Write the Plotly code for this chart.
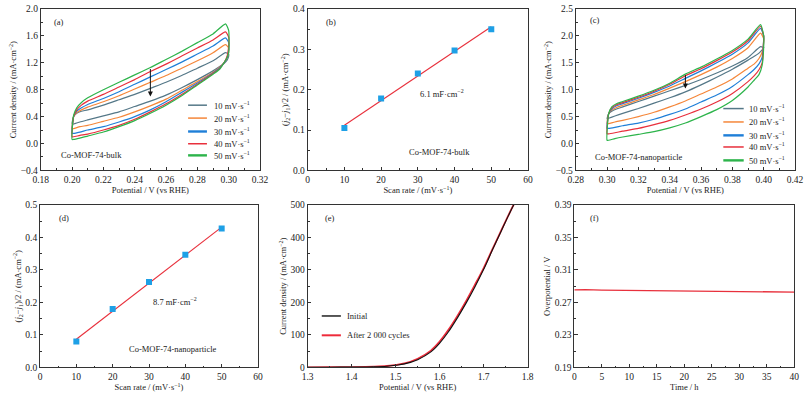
import plotly.graph_objects as go

FONT = "Liberation Serif"
TXT = "#222222"
AX = "#333333"

# ---------------- data ----------------
rates = ["10", "20", "30", "40", "50"]
rate_colors = ["#557888", "#f5873a", "#1f7fd8", "#e8303c", "#2db44b"]
legend_widths = [1.5, 1.5, 2.4, 1.5, 2.4]

# panel (a): Co-MOF-74-bulk CV
a_up_x = [0.200, 0.201, 0.203, 0.206, 0.21, 0.22, 0.23, 0.24, 0.25, 0.26, 0.27, 0.28, 0.29, 0.298, 0.300]
a_lo_x = [0.300, 0.299, 0.297, 0.294, 0.29, 0.28, 0.27, 0.26, 0.25, 0.24, 0.23, 0.22, 0.21, 0.205, 0.201, 0.200]
a_up_10 = [0.29, 0.40, 0.45, 0.48, 0.50, 0.57, 0.65, 0.73, 0.82, 0.91, 1.01, 1.12, 1.23, 1.35, 1.33]
a_up_20 = [0.22, 0.40, 0.46, 0.50, 0.54, 0.62, 0.71, 0.81, 0.91, 1.01, 1.12, 1.23, 1.35, 1.47, 1.42]
a_up_30 = [0.15, 0.40, 0.48, 0.53, 0.58, 0.67, 0.77, 0.88, 0.99, 1.10, 1.21, 1.33, 1.45, 1.57, 1.50]
a_up_40 = [0.10, 0.40, 0.50, 0.57, 0.63, 0.73, 0.84, 0.95, 1.07, 1.18, 1.30, 1.42, 1.54, 1.66, 1.58]
a_up_50 = [0.06, 0.42, 0.53, 0.61, 0.68, 0.80, 0.91, 1.02, 1.13, 1.25, 1.37, 1.50, 1.63, 1.78, 1.68]
a_lo_10 = [1.30, 1.24, 1.19, 1.14, 1.08, 0.95, 0.83, 0.72, 0.63, 0.55, 0.47, 0.41, 0.35, 0.32, 0.29, 0.29]
a_lo_20 = [1.36, 1.27, 1.20, 1.13, 1.06, 0.92, 0.79, 0.66, 0.56, 0.47, 0.39, 0.33, 0.27, 0.25, 0.22, 0.22]
a_lo_30 = [1.40, 1.28, 1.20, 1.12, 1.05, 0.90, 0.76, 0.62, 0.50, 0.40, 0.32, 0.25, 0.20, 0.17, 0.15, 0.15]
a_lo_40 = [1.45, 1.30, 1.20, 1.11, 1.04, 0.88, 0.73, 0.59, 0.47, 0.36, 0.27, 0.20, 0.14, 0.12, 0.10, 0.10]
a_lo_50 = [1.35, 1.28, 1.20, 1.10, 1.03, 0.87, 0.71, 0.57, 0.45, 0.34, 0.25, 0.17, 0.11, 0.08, 0.06, 0.06]
a_up = [a_up_10, a_up_20, a_up_30, a_up_40, a_up_50]
a_lo = [a_lo_10, a_lo_20, a_lo_30, a_lo_40, a_lo_50]

# panel (c): Co-MOF-74-nanoparticle CV
c_up_x = [0.300, 0.301, 0.303, 0.306, 0.31, 0.32, 0.33, 0.34, 0.35, 0.36, 0.37, 0.38, 0.39, 0.398, 0.400]
c_lo_x = [0.400, 0.399, 0.397, 0.394, 0.39, 0.38, 0.37, 0.36, 0.35, 0.34, 0.33, 0.32, 0.31, 0.305, 0.301, 0.300]
c_up_10 = [0.46, 0.55, 0.60, 0.64, 0.68, 0.78, 0.88, 0.98, 1.08, 1.19, 1.31, 1.44, 1.60, 1.80, 1.78]
c_up_20 = [0.37, 0.55, 0.62, 0.67, 0.71, 0.81, 0.91, 1.03, 1.15, 1.28, 1.42, 1.58, 1.78, 2.05, 1.95]
c_up_30 = [0.28, 0.55, 0.64, 0.70, 0.74, 0.84, 0.95, 1.07, 1.21, 1.35, 1.50, 1.66, 1.87, 2.14, 2.00]
c_up_40 = [0.18, 0.55, 0.66, 0.72, 0.76, 0.86, 0.97, 1.10, 1.26, 1.39, 1.54, 1.70, 1.91, 2.18, 2.00]
c_up_50 = [0.06, 0.55, 0.68, 0.74, 0.78, 0.88, 0.99, 1.12, 1.29, 1.42, 1.57, 1.73, 1.94, 2.21, 2.00]
c_lo_10 = [1.78, 1.74, 1.68, 1.62, 1.55, 1.38, 1.23, 1.09, 0.96, 0.85, 0.75, 0.65, 0.56, 0.51, 0.47, 0.46]
c_lo_20 = [1.90, 1.70, 1.58, 1.48, 1.40, 1.20, 1.05, 0.92, 0.79, 0.68, 0.58, 0.50, 0.43, 0.40, 0.37, 0.37]
c_lo_30 = [1.95, 1.60, 1.48, 1.38, 1.28, 1.06, 0.90, 0.77, 0.64, 0.54, 0.45, 0.38, 0.33, 0.30, 0.28, 0.28]
c_lo_40 = [1.95, 1.50, 1.37, 1.26, 1.15, 0.93, 0.77, 0.64, 0.53, 0.43, 0.35, 0.28, 0.23, 0.20, 0.18, 0.18]
c_lo_50 = [1.80, 1.45, 1.28, 1.18, 1.05, 0.80, 0.63, 0.50, 0.38, 0.29, 0.22, 0.17, 0.12, 0.09, 0.06, 0.06]
c_up = [c_up_10, c_up_20, c_up_30, c_up_40, c_up_50]
c_lo = [c_lo_10, c_lo_20, c_lo_30, c_lo_40, c_lo_50]

# panel (b) / (d): half current-density difference vs scan rate
scan_rate = [10, 20, 30, 40, 50]
b_dj = [0.105, 0.178, 0.240, 0.297, 0.350]
d_dj = [0.080, 0.180, 0.263, 0.347, 0.428]
b_fit = [0.112, 0.356]
d_fit = [0.087, 0.432]
fit_x = [10, 50]

# panel (e): LSV before / after cycling
e_x = [1.30, 1.35, 1.40, 1.45, 1.48, 1.50, 1.52, 1.55, 1.58, 1.60, 1.62, 1.64, 1.66, 1.68, 1.70, 1.72, 1.74, 1.76, 1.77]
e_initial = [0.5, 0.8, 1.2, 2.2, 4, 7, 11, 24, 48, 75, 110, 152, 198, 248, 302, 362, 420, 478, 505]
e_after = [0.5, 0.8, 1.3, 2.5, 4.5, 8, 12.5, 27, 52, 80, 116, 158, 204, 254, 306, 364, 422, 479, 506]

# panel (f): overpotential vs time
f_t = [0, 2, 5, 10, 15, 20, 25, 30, 35, 40]
f_eta = [0.2855, 0.2858, 0.2853, 0.2849, 0.2846, 0.2843, 0.2840, 0.2836, 0.2833, 0.2828]

# ---------------- figure ----------------
fig = go.Figure()

for i in range(5):
    fig.add_trace(go.Scatter(x=a_up_x + a_lo_x, y=a_up[i] + a_lo[i], mode="lines",
                             line=dict(color=rate_colors[i], width=1.2, shape="spline", smoothing=0.5),
                             xaxis="x", yaxis="y", showlegend=False))
    fig.add_trace(go.Scatter(x=c_up_x + c_lo_x, y=c_up[i] + c_lo[i], mode="lines",
                             line=dict(color=rate_colors[i], width=1.2, shape="spline", smoothing=0.5),
                             xaxis="x3", yaxis="y3", showlegend=False))

for dj, fit, xa, ya in [(b_dj, b_fit, "x2", "y2"), (d_dj, d_fit, "x4", "y4")]:
    fig.add_trace(go.Scatter(x=fit_x, y=fit, mode="lines", line=dict(color="#e8303c", width=1.1),
                             xaxis=xa, yaxis=ya, showlegend=False))
    fig.add_trace(go.Scatter(x=scan_rate, y=dj, mode="markers",
                             marker=dict(symbol="square", size=6, color="#1ea0e6"),
                             xaxis=xa, yaxis=ya, showlegend=False))

fig.add_trace(go.Scatter(x=e_x, y=e_after, mode="lines", line=dict(color="#ee2b3a", width=1.8, shape="spline"),
                         xaxis="x5", yaxis="y5", showlegend=False))
fig.add_trace(go.Scatter(x=e_x, y=e_initial, mode="lines", line=dict(color="#111111", width=1.1, shape="spline"),
                         xaxis="x5", yaxis="y5", showlegend=False))

fig.add_trace(go.Scatter(x=f_t, y=f_eta, mode="lines", line=dict(color="#e8303c", width=1.3),
                         xaxis="x6", yaxis="y6", showlegend=False))


def axis(domain, rng, dtick, minor, anchor, title, fmt, standoff):
    return dict(domain=domain, range=rng, dtick=dtick, tick0=rng[0], tickformat=fmt,
                ticks="inside", ticklen=3.5, tickwidth=0.8, tickcolor=AX,
                showline=True, linecolor=AX, linewidth=0.9, mirror=True,
                showgrid=False, zeroline=False, anchor=anchor, automargin=False,
                ticklabeloverflow="allow",
                minor=dict(ticks="inside", ticklen=2, dtick=minor, tick0=rng[0], tickcolor=AX, tickwidth=0.7, showgrid=False),
                tickfont=dict(family=FONT, size=9.5, color=TXT),
                title=dict(text=title, font=dict(family=FONT, size=8.5, color=TXT), standoff=standoff))


top = [0.573, 0.9774]
bot = [0.079, 0.4862]
potential = "Potential / V (vs RHE)"
cd = "Current density / (mA·cm<sup>−2</sup>)"
djt = "(<i>j</i><sub>2</sub>−<i>j</i><sub>1</sub>)/2 / (mA·cm<sup>−2</sup>)"
scan = "Scan rate / (mV·s<sup>−1</sup>)"

fig.update_layout(
    width=805, height=399, margin=dict(l=0, r=0, t=0, b=0, autoexpand=False),
    paper_bgcolor="white", plot_bgcolor="white", showlegend=False,
    font=dict(family=FONT, size=9, color=TXT),
    xaxis=axis([0.0506, 0.3230], [0.18, 0.32], 0.02, 0.01, "y", potential, ".2f", 3),
    yaxis=axis(top, [-0.4, 2.0], 0.4, 0.2, "x", cd, ".1f", 2),
    xaxis2=axis([0.3822, 0.6559], [0, 60], 10, 5, "y2", scan, "d", 3),
    yaxis2=axis(top, [0, 0.4], 0.1, 0.05, "x2", djt, ".1f", 2),
    xaxis3=axis([0.7152, 0.9876], [0.28, 0.42], 0.02, 0.01, "y3", potential, ".2f", 3),
    yaxis3=axis(top, [-0.5, 2.5], 0.5, 0.25, "x3", cd, ".1f", 2),
    xaxis4=axis([0.0497, 0.3205], [0, 60], 10, 5, "y4", scan, "d", 3),
    yaxis4=axis(bot, [0, 0.5], 0.1, 0.05, "x4", djt, ".1f", 2),
    xaxis5=axis([0.3822, 0.6555], [1.3, 1.8], 0.1, 0.05, "y5", potential, ".1f", 3),
    yaxis5=axis(bot, [0, 500], 100, 50, "x5", cd, "d", 2),
    xaxis6=axis([0.7134, 0.9867], [0, 40], 5, 2.5, "y6", "Time / h", "d", 3),
    yaxis6=axis(bot, [0.19, 0.39], 0.04, 0.02, "x6", "Overpotential / V", ".2f", 2),
)

ann = []
shapes = []


def label(xref, yref, x, y, text, size=8.5, xanchor="center"):
    ann.append(dict(xref=xref, yref=yref, x=x, y=y, text=text, showarrow=False,
                    xanchor=xanchor, yanchor="middle", font=dict(family=FONT, size=size, color=TXT)))


# panel letters
for k, (ax_, xf, yf) in enumerate([("", 0.05, 0.92), ("2", 0.075, 0.92), ("3", 0.055, 0.93),
                                   ("4", 0.078, 0.92), ("5", 0.07, 0.92), ("6", 0.064, 0.92)]):
    label("x%s domain" % ax_, "y%s domain" % ax_, xf, yf, "(%s)" % "abcdef"[k], xanchor="left")

label("x", "y", 0.2127, -0.168, "Co-MOF-74-bulk")
label("x2", "y2", 35.8, 0.0445, "Co-MOF-74-bulk")
label("x2", "y2", 36.5, 0.191, "6.1 mF·cm<sup>−2</sup>")
label("x3", "y3", 0.3206, -0.25, "Co-MOF-74-nanoparticle")
label("x4", "y4", 37.2, 0.203, "8.7 mF·cm<sup>−2</sup>")
label("x4", "y4", 36.7, 0.0575, "Co-MOF-74-nanoparticle")

# arrows
ann.append(dict(xref="x", yref="y", axref="x", ayref="y", x=0.25, y=0.70, ax=0.25, ay=1.13,
                showarrow=True, arrowhead=2, arrowsize=1, arrowwidth=1, arrowcolor="#111", text=""))
ann.append(dict(xref="x3", yref="y3", axref="x3", ayref="y3", x=0.35, y=1.02, ax=0.35, ay=1.30,
                showarrow=True, arrowhead=2, arrowsize=1, arrowwidth=1, arrowcolor="#111", text=""))

# manual legends (a) and (c)
a_leg_y = [0.404, 0.324, 0.241, 0.165, 0.093]
c_leg_y = [0.383, 0.300, 0.217, 0.145, 0.062]
for i in range(5):
    for ax_, ly, x0, x1, xt in [("", a_leg_y[i], 0.672, 0.758, 0.780), ("3", c_leg_y[i], 0.673, 0.766, 0.780)]:
        shapes.append(dict(type="line", xref="x%s domain" % ax_, yref="y%s domain" % ax_,
                           x0=x0, x1=x1, y0=ly, y1=ly, line=dict(color=rate_colors[i], width=legend_widths[i])))
        label("x%s domain" % ax_, "y%s domain" % ax_, xt, ly, "%s mV·s<sup>−1</sup>" % rates[i], xanchor="left")

# legend (e)
for ly, col, w, txt in [(0.317, "#111111", 1.4, "Initial"), (0.198, "#ee2b3a", 2.0, "After 2 000 cycles")]:
    shapes.append(dict(type="line", xref="x5 domain", yref="y5 domain", x0=0.064, x1=0.151, y0=ly, y1=ly,
                       line=dict(color=col, width=w)))
    label("x5 domain", "y5 domain", 0.170, ly, txt, xanchor="left")

fig.update_layout(annotations=ann, shapes=shapes)
# remove the default 8 px page margin so the 805x399 figure fills the window exactly
fig.write_html("out.html", config={"displayModeBar": False},
               post_script="document.body.style.margin='0';document.body.style.overflow='hidden';")
